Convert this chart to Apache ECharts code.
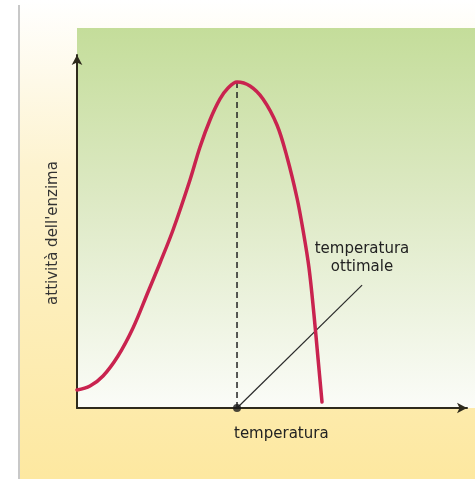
<!DOCTYPE html>
<html>
<head>
<meta charset="utf-8">
<script src="https://cdn.jsdelivr.net/npm/echarts@6/dist/echarts.min.js"></script>
<style>
html,body{margin:0;padding:0;background:#fff;}
#c{width:475px;height:479px;}
</style>
</head>
<body>
<div id="c"></div>
<script>
// temperature (arbitrary units) and enzyme activity (arbitrary units)
var temperature = [0, 3.33, 6.67, 10.51, 14.36, 18.21, 21.28, 24.62, 28.97, 31.54, 34.10, 36.67, 38.72, 41.03, 44.36, 47.69, 51.28, 53.85, 56.41, 57.95, 59.49, 60.77, 61.79, 62.82];
var activity    = [5.10, 6.23, 9.07, 14.73, 22.66, 32.86, 41.08, 50.42, 64.59, 73.94, 81.59, 87.54, 90.65, 92.35, 91.22, 87.54, 80.17, 71.10, 59.49, 50.42, 39.66, 26.35, 14.16, 1.70];
var optimumTemp = [41.03];
var optimumActivity = [92.35];
var pointerEnd = [73.1, 34.8];
var labels = {
  xName: 'temperatura',
  yName: "attività dell'enzima",
  optimum: 'temperatura\nottimale'
};

var curve = temperature.map(function (t, i) { return [t, activity[i]]; });

var chart = echarts.init(document.getElementById('c'), null, {renderer: 'canvas'});
chart.setOption({
  animation: false,
  backgroundColor: '#ffffff',
  grid: {left: 77, right: 8, top: 55, bottom: 71},
  xAxis: {
    type: 'value', min: 0, max: 100,
    axisLine: {show: true, symbol: ['none', 'arrow'], symbolSize: [8, 10],
      lineStyle: {color: '#2e2a1c', width: 2}},
    axisTick: {show: false}, axisLabel: {show: false}, splitLine: {show: false}
  },
  yAxis: {
    type: 'value', min: 0, max: 100,
    axisLine: {show: true, symbol: ['none', 'arrow'], symbolSize: [8, 10],
      lineStyle: {color: '#2e2a1c', width: 2}},
    axisTick: {show: false}, axisLabel: {show: false}, splitLine: {show: false}
  },
  graphic: [
    {type: 'rect', z: -20, silent: true, shape: {x: 20, y: 0, width: 455, height: 479},
      style: {fill: new echarts.graphic.LinearGradient(0, 0, 0, 1, [
        {offset: 0, color: '#ffffff'},
        {offset: 0.35, color: '#fdf3cf'},
        {offset: 1, color: '#fde8a0'}
      ])}},
    {type: 'rect', z: -19, silent: true, shape: {x: 18, y: 5, width: 2, height: 474},
      style: {fill: '#c8c8c8'}},
    {type: 'rect', z: -18, silent: true, shape: {x: 77, y: 28, width: 398, height: 380},
      style: {fill: new echarts.graphic.LinearGradient(0, 0, 0, 1, [
        {offset: 0, color: '#c4dd9a'},
        {offset: 0.45, color: '#dde9c4'},
        {offset: 1, color: '#fbfcf8'}
      ])}},
    {type: 'text', z: 10, left: 234, top: 427,
      style: {text: labels.xName, fill: '#222', font: '15px "DejaVu Sans"'}},
    {type: 'text', z: 10, x: 53, y: 233, rotation: Math.PI / 2,
      style: {text: labels.yName, fill: '#333', font: '15px "DejaVu Sans"', align: 'center', verticalAlign: 'middle'}},
    {type: 'text', z: 10, x: 362, y: 258,
      style: {text: labels.optimum, fill: '#222', font: '15px "DejaVu Sans"', align: 'center', verticalAlign: 'middle', lineHeight: 18}}
  ],
  series: [
    {type: 'line', data: [[optimumTemp[0], 0], [optimumTemp[0], optimumActivity[0]]],
      symbol: 'none', silent: true, z: 3,
      lineStyle: {color: '#222', width: 1.5, type: [6, 4]}},
    {type: 'line', data: [[optimumTemp[0], 0], pointerEnd],
      symbol: 'none', silent: true, z: 3,
      lineStyle: {color: '#2a2a2a', width: 1.2}},
    {type: 'line', data: curve, smooth: 0.35, symbol: 'none', z: 4,
      lineStyle: {color: '#c9234f', width: 3.5, join: 'round', cap: 'round'}},
    {type: 'scatter', data: [[optimumTemp[0], 0]], symbolSize: 8, z: 6,
      itemStyle: {color: '#1a1a1a'}}
  ]
});
</script>
</body>
</html>
